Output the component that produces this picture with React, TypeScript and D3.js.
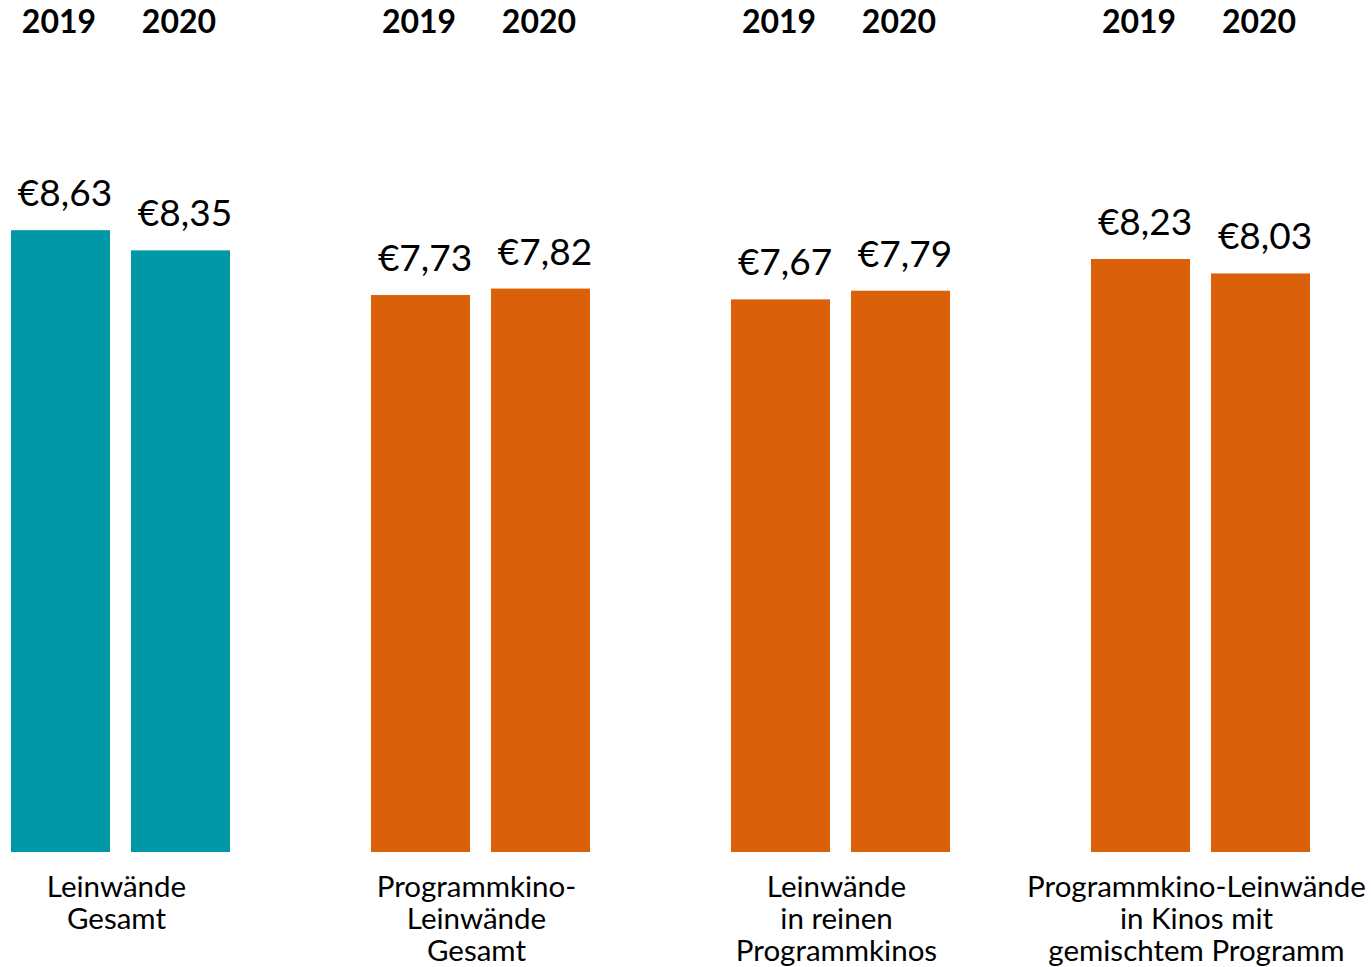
import React from "react";
import * as d3 from "d3";

const WIDTH = 1371;
const HEIGHT = 967;

const categories = ["gesamt", "pk_gesamt", "pk_rein", "pk_gemischt"];
const categoryLabels = [
  ["Leinwände", "Gesamt"],
  ["Programmkino-", "Leinwände", "Gesamt"],
  ["Leinwände", "in reinen", "Programmkinos"],
  ["Programmkino-Leinwände", "in Kinos mit", "gemischtem Programm"],
];
const years = ["2019", "2020"];
const values2019 = [8.63, 7.73, 7.67, 8.23];
const values2020 = [8.35, 7.82, 7.79, 8.03];
const barColors = ["#0098a6", "#db600a", "#db600a", "#db600a"];

const FONT = "Lato, 'Open Sans', sans-serif";

const fmt = (v: number) => "€" + v.toFixed(2).replace(".", ",");

const App = () => {
  const x0 = d3
    .scaleBand()
    .domain(categories)
    .range([11, 1310])
    .paddingInner(0.3917)
    .paddingOuter(0);

  const x1 = d3
    .scaleBand()
    .domain(years)
    .range([0, x0.bandwidth()])
    .paddingInner(0.175);

  const y = d3.scaleLinear().domain([0, 11.825]).range([852, 0]);

  const series = [values2019, values2020];

  return (
    <svg
      width={WIDTH}
      height={HEIGHT}
      style={{ position: "absolute", left: 0, top: 0, background: "#fff" }}
      fontFamily={FONT}
    >
      {categories.map((c, ci) => {
        const gx = x0(c) as number;
        const gc = gx + x0.bandwidth() / 2;
        return (
          <g key={c}>
            {years.map((yr, yi) => {
              const v = series[yi][ci];
              const bx = gx + (x1(yr) as number);
              const bw = x1.bandwidth();
              return (
                <g key={yr}>
                  <text
                    x={bx + bw / 2 - 1.5}
                    y={33}
                    textAnchor="middle"
                    fontSize={32}
                    fontWeight="bold"
                    fill="#000"
                  >
                    {yr}
                  </text>
                  <rect x={bx} y={y(v)} width={bw} height={y(0) - y(v)} fill={barColors[ci]} />
                  <text
                    x={bx + bw / 2 + 4.5}
                    y={y(v) - 24}
                    textAnchor="middle"
                    fontSize={37}
                    fill="#000"
                  >
                    {fmt(v)}
                  </text>
                </g>
              );
            })}
            <text textAnchor="middle" fontSize={29.5} fill="#000">
              {categoryLabels[ci].map((line, li) => (
                <tspan key={li} x={gc - 4} y={897 + li * 32}>
                  {line}
                </tspan>
              ))}
            </text>
          </g>
        );
      })}
    </svg>
  );
};

export default App;
